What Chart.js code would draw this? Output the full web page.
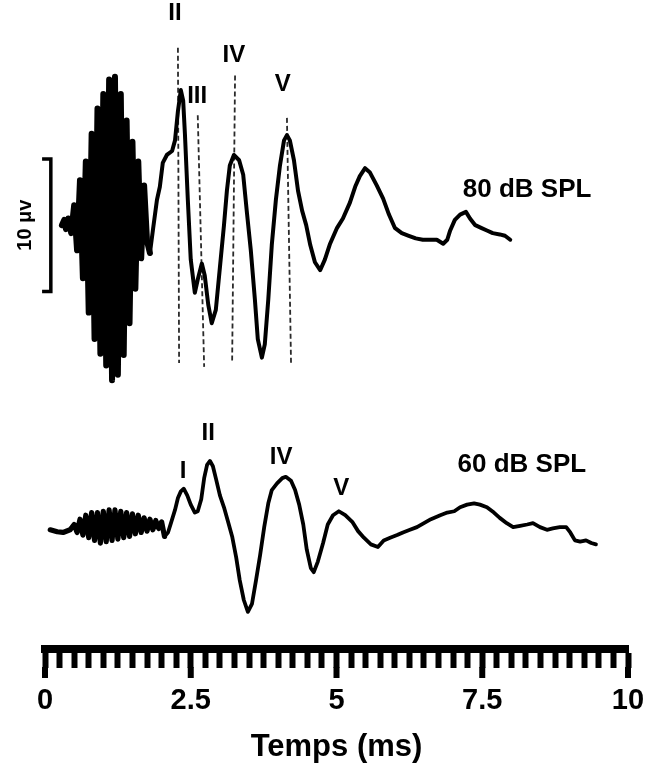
<!DOCTYPE html>
<html>
<head>
<meta charset="utf-8">
<script src="https://cdn.jsdelivr.net/npm/chart.js@4/dist/chart.umd.min.js"></script>
<style>
html,body{margin:0;padding:0;background:#fff;}
canvas{display:block;}
</style>
</head>
<body>
<canvas id="c" width="651" height="769"></canvas>
<script>
// ---------- DATA (time in ms, amplitude in µV relative to each trace's baseline) ----------
// 80 dB SPL: stimulus artefact, then the evoked response
const stim80T = [0.29,0.33,0.36,
  0.40,0.45,0.50,0.55,0.60,0.65,0.70,0.75,0.80,0.85,0.90,0.95,1.00,1.05,1.10,1.15,1.20,1.25,1.30,1.35,1.40,1.45,1.50,1.55,1.60,1.65,1.70,1.75,1.80];
const stim80V = [0,0.4,-0.3,
  0.5,-0.6,1.5,-1.9,3.4,-4.0,4.8,-6.6,6.9,-8.6,8.8,-9.7,9.9,-10.6,11.0,-11.7,11.2,-11.3,9.9,-9.8,7.9,-7.4,6.3,-4.8,4.8,-2.5,3.0,-1.2,-2.1];
const resp80T = [1.80,
  1.85,1.92,1.97,2.02,2.09,2.18,2.23,2.28,2.33,2.37,2.40,2.45,2.50,2.57,2.62,2.69,2.74,2.80,2.86,2.93,
  3.00,3.07,3.12,3.17,3.24,3.33,3.40,3.46,3.53,3.60,3.65,3.72,3.77,3.83,3.89,3.96,4.03,4.10,4.15,4.20,
  4.27,4.34,4.41,4.48,4.55,4.63,4.72,4.80,4.89,5.01,5.11,5.23,5.32,5.40,5.49,5.57,5.69,5.80,5.90,6.00,
  6.12,6.24,6.36,6.48,6.60,6.72,6.83,6.90,6.95,7.03,7.12,7.22,7.29,7.38,7.48,7.58,7.68,7.80,7.89,7.98];
const resp80V = [-2.1,
  -0.4,1.9,2.9,4.7,5.3,5.6,6.4,8.6,10.2,9.4,6.9,1.9,-2.6,-5.1,-4.1,-2.9,-3.8,-6.0,-7.4,-6.4,
  -3.2,0,2.6,4.5,5.3,4.9,3.8,1.1,-1.9,-5.6,-8.6,-10.0,-9.0,-5.6,-1.5,1.9,4.5,6.4,6.8,6.4,
  4.9,2.6,1.1,0,-1.5,-2.8,-3.4,-2.6,-1.4,-0.2,0.5,1.7,2.9,3.7,4.3,4.0,3.0,2.0,0.8,-0.2,
  -0.6,-0.8,-1.0,-1.1,-1.1,-1.1,-1.4,-1.1,-0.4,0.4,0.8,1.0,0.5,0,-0.2,-0.4,-0.6,-0.7,-0.8,-1.1];

// 60 dB SPL: stimulus artefact, then the evoked response
const stim60T = [0.09,0.21,0.31,0.43,
  0.50,0.55,0.60,0.65,0.70,0.75,0.80,0.85,0.90,0.95,1.00,1.05,1.10,1.15,1.20,1.25,1.30,1.35,1.40,1.45,1.50,1.55,1.60,1.65,1.70,1.75,1.80,1.85,1.90,1.95,2.00,2.05];
const stim60V = [0,-0.15,-0.2,0,
  0.4,-0.2,0.8,-0.4,1.1,-0.6,1.3,-0.8,1.3,-1.0,1.4,-0.9,1.5,-0.8,1.5,-0.7,1.4,-0.6,1.3,-0.5,1.2,-0.3,1.1,-0.2,0.9,-0.1,0.8,0,0.7,0.1,0.6,-0.5];
const resp60T = [2.05,
  2.11,2.16,2.23,2.28,2.33,2.38,2.44,2.50,2.57,2.62,2.68,2.73,2.78,2.83,2.88,2.93,3.00,3.07,3.14,3.21,
  3.28,3.34,3.41,3.48,3.55,3.62,3.69,3.76,3.83,3.89,3.98,4.07,4.13,4.22,4.29,4.36,4.43,4.49,4.56,4.61,
  4.68,4.77,4.85,4.94,5.04,5.15,5.27,5.37,5.47,5.59,5.71,5.81,5.92,6.04,6.14,6.26,6.38,6.50,6.62,6.78,
  6.90,7.02,7.12,7.24,7.36,7.46,7.58,7.70,7.80,7.92,8.03,8.15,8.27,8.37,8.49,8.61,8.71,8.83,8.94,9.01,
  9.09,9.18,9.28,9.37,9.45];
const resp60V = [-0.5,
  -0.2,0.5,1.5,2.4,2.9,3.1,2.6,1.9,1.3,1.4,2.3,3.9,4.9,5.2,4.8,3.9,2.6,1.7,0.6,-0.5,
  -2.1,-3.8,-5.3,-6.2,-5.6,-3.8,-1.9,0.2,2.0,3.0,3.5,3.9,4.0,3.7,3.0,1.9,0.4,-1.5,-2.9,-3.2,
  -2.4,-1.0,0.4,1.1,1.4,1.1,0.6,-0.1,-0.6,-1.1,-1.3,-0.8,-0.6,-0.4,-0.2,0,0.2,0.5,0.8,1.1,
  1.3,1.4,1.7,1.9,2.0,1.9,1.7,1.3,0.9,0.5,0.2,0.3,0.4,0.5,0.2,0,0.1,0.2,0.2,-0.2,
  -0.8,-0.9,-0.8,-1.0,-1.1];

// display offsets of the two traces on the shared µV axis
const offset80 = 0;
const offset60 = -23;

// dashed latency markers on the 80 dB trace (ms, µV)
const markerNames = ['II','III','IV','V'];
const markerTopT = [2.28, 2.62, 3.26, 4.15];
const markerBotT = [2.30, 2.73, 3.21, 4.22];
const markerTopV = [13.4, 8.3, 11.3, 8.1];
const markerBotV = [-10.4, -10.7, -10.3, -10.4];

// peak labels (text, ms, µV on the shared axis)
const peakText = ['II','III','IV','V','I','II','IV','V','80 dB SPL','60 dB SPL'];
const peakT    = [2.23, 2.61, 3.24, 4.08, 2.37, 2.80, 4.05, 5.08, 8.27, 8.18];
const peakV    = [16.0, 9.7, 12.8, 10.6, -18.6, -15.7, -17.5, -19.9, 2.7, -18.1];

// 10 µV calibration bar
const scaleBarT = [-0.05, 0.10, 0.10, -0.05];
const scaleBarV = [5, 5, -5, -5];
const scaleBarLabel = '10 \u03bcv';
const scaleBarLabelPos = [-0.33, 0];

// x axis
const xMajorTicks = [0, 2.5, 5, 7.5, 10];
const xTickLabels = ['0', '2.5', '5', '7.5', '10'];
const xMinorStep = 0.25;
const xTitle = 'Temps (ms)';

// ---------- CHART ----------
const pts = (t, v, off) => t.map((x, i) => ({x: x, y: v[i] + off}));

const datasets = [
  {data: pts(resp80T, resp80V, offset80), borderColor:'#000', borderWidth:4},
  {data: pts(resp60T, resp60V, offset60), borderColor:'#000', borderWidth:3.8},
  {data: pts(stim80T, stim80V, offset80), borderColor:'#000', borderWidth:6},
  {data: pts(stim60T, stim60V, offset60), borderColor:'#000', borderWidth:5.2},
  {data: pts(scaleBarT, scaleBarV, offset80), borderColor:'#000', borderWidth:3.5, clip:false, borderJoinStyle:'miter', borderCapStyle:'butt'}
];
markerNames.forEach((n, i) => {
  datasets.push({
    data: [{x: markerTopT[i], y: markerTopV[i] + offset80}, {x: markerBotT[i], y: markerBotV[i] + offset80}],
    borderColor:'#2a2a2a', borderWidth:1.8, borderDash:[5,3], borderCapStyle:'butt'
  });
});
datasets.forEach(d => {
  d.pointRadius = 0; d.tension = 0; d.fill = false;
  if (!d.borderJoinStyle) d.borderJoinStyle = 'round';
  if (!d.borderCapStyle) d.borderCapStyle = 'round';
});

const allTicks = [];
for (let k = 0; k <= Math.round(10 / xMinorStep); k++) allTicks.push(+(k * xMinorStep).toFixed(4));

const labelFont = '"Liberation Sans", Arial, sans-serif';

const annotPlugin = {
  id: 'annot',
  afterDraw(chart) {
    const {ctx, scales: {x, y}} = chart;
    ctx.save();
    // longer major ticks
    ctx.fillStyle = '#000';
    xMajorTicks.forEach(v => {
      const px = x.getPixelForValue(v);
      ctx.fillRect(px - 3, x.top + 18, 6, 11);
    });
    // peak + level labels
    ctx.textAlign = 'center';
    ctx.textBaseline = 'middle';
    peakText.forEach((t, i) => {
      ctx.font = (t.indexOf('SPL') >= 0 ? 'bold 26px ' : 'bold 24px ') + labelFont;
      ctx.fillText(t, x.getPixelForValue(peakT[i]), y.getPixelForValue(peakV[i]));
    });
    // calibration label
    ctx.save();
    ctx.translate(x.getPixelForValue(scaleBarLabelPos[0]), y.getPixelForValue(scaleBarLabelPos[1] + offset80));
    ctx.rotate(-Math.PI / 2);
    ctx.font = 'bold 20px ' + labelFont;
    ctx.fillText(scaleBarLabel, 0, 0);
    ctx.restore();
    ctx.restore();
  }
};

new Chart(document.getElementById('c'), {
  type: 'line',
  data: {datasets},
  options: {
    responsive: false,
    animation: false,
    events: [],
    layout: {padding: {left: 45, right: 23, top: 0, bottom: 0}},
    plugins: {legend: {display: false}, tooltip: {enabled: false}},
    scales: {
      x: {
        type: 'linear', min: 0, max: 10, position: 'bottom',
        afterBuildTicks(scale) { scale.ticks = allTicks.map(v => ({value: v})); },
        afterFit(scale) { scale.height = 120; scale.paddingLeft = 0; scale.paddingRight = 0; },
        grid: {display: true, drawOnChartArea: false, drawTicks: true, tickLength: 19, tickWidth: 6, tickColor: '#000'},
        border: {display: true, width: 8, color: '#000'},
        ticks: {
          autoSkip: false, maxRotation: 0, minRotation: 0, padding: 16, color: '#000',
          font: {family: labelFont, size: 29, weight: 'bold'},
          callback(v) {
            const i = xMajorTicks.findIndex(m => Math.abs(m - v) < 1e-6);
            return i >= 0 ? xTickLabels[i] : '';
          }
        },
        title: {display: true, text: xTitle, color: '#000', font: {family: labelFont, size: 31, weight: 'bold'}, padding: {top: 0, bottom: 3}}
      },
      y: {type: 'linear', min: -32, max: 17, display: false}
    }
  },
  plugins: [annotPlugin]
});
</script>
</body>
</html>
